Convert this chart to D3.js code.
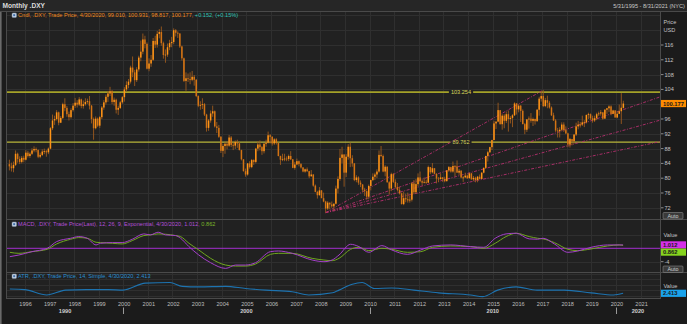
<!DOCTYPE html>
<html><head><meta charset="utf-8">
<script src="https://cdn.jsdelivr.net/npm/d3@7"></script>
<style>
html,body{margin:0;padding:0;background:#1c1c1c;overflow:hidden;}
svg{display:block;font-family:"Liberation Sans",Arial,sans-serif;}
</style></head><body>
<svg id="c" width="687" height="324"></svg>
<script>
// ---- Monthly .DXY candles, May 1995 .. Apr 2020 ----
const firstYear = 1995, firstMonth = 4; // May 1995
const open = [
  83.8,83.2,82.7,83.6,86.6,85.2,84.4,85.5,
  85.0,86.9,86.0,86.6,87.5,87.9,87.6,85.8,86.3,87.2,87.3,87.0,
  88.0,93.5,95.6,96.0,97.8,95.0,96.3,100.0,99.0,97.3,96.5,98.4,
  99.6,100.4,99.9,101.3,99.5,100.0,100.6,100.8,99.6,96.0,93.5,96.1,
  94.2,96.5,99.1,100.5,102.0,102.9,103.5,100.6,101.2,98.5,99.0,100.5,
  101.9,104.0,105.2,106.1,109.9,108.6,106.5,109.4,112.6,114.2,117.5,116.3,
  109.6,111.0,112.0,117.1,116.1,119.0,119.5,116.5,113.3,113.4,115.4,116.5,
  116.8,120.0,119.3,119.1,115.6,112.4,106.3,107.0,106.8,106.6,107.4,106.6,
  102.2,99.6,99.8,100.0,97.2,93.6,95.6,97.5,98.1,94.0,93.6,91.2,
  87.4,88.7,89.3,88.8,91.0,89.0,88.8,89.8,89.4,87.6,85.1,81.9,
  81.0,84.0,83.0,84.9,84.4,88.0,89.1,88.4,87.3,89.3,89.6,91.6,
  91.2,89.4,90.5,89.5,86.0,85.0,85.2,85.3,85.2,86.0,85.1,82.8,
  83.7,84.6,83.8,82.9,81.8,82.4,81.9,80.5,81.0,78.0,76.3,75.4,
  76.7,74.6,73.7,71.8,73.4,72.9,72.4,73.1,77.2,79.8,85.5,86.4,
  81.5,85.8,88.5,85.4,84.0,79.5,80.2,78.8,78.3,76.9,76.5,75.0,
  77.9,79.5,80.4,81.0,81.8,86.3,86.0,81.8,83.1,78.9,77.2,81.1,
  79.0,77.6,76.8,75.9,73.0,74.6,74.3,74.0,74.2,78.6,76.2,78.4,
  80.2,79.2,78.8,79.0,78.8,83.0,81.6,82.7,81.2,79.9,79.8,80.2,
  79.8,79.2,82.1,83.0,81.8,83.3,83.2,81.5,82.0,80.2,80.2,80.7,
  80.0,81.3,79.7,80.1,79.5,80.4,79.8,81.5,82.8,86.0,87.0,88.4,
  90.3,94.8,95.3,98.4,94.6,96.9,95.5,97.3,96.0,96.3,97.0,100.2,
  98.6,99.6,98.2,94.6,93.1,95.9,96.1,95.5,96.0,95.4,98.5,101.5,
  102.2,99.5,101.1,100.4,99.1,97.0,95.6,92.9,92.7,93.1,94.5,93.0,
  92.1,89.1,90.6,90.0,91.8,94.0,94.5,94.5,95.1,95.1,97.1,97.3,
  96.2,95.6,96.2,97.3,97.5,97.8,96.1,98.5,98.9,99.4,97.4,98.3,
  96.4,97.4,98.1,99.010
];
const high = [
  85.0,84.2,84.5,87.5,86.9,85.9,86.0,86.1,
  87.6,87.4,87.0,88.1,88.6,88.3,87.8,86.9,87.8,88.0,87.6,88.3,
  93.8,97.2,96.9,98.4,98.0,96.8,100.4,101.6,99.5,98.0,98.9,100.3,
  101.7,101.1,101.9,101.5,101.0,101.6,101.5,102.2,99.8,96.4,96.7,96.4,
  96.8,99.5,101.1,102.6,103.6,104.7,103.8,101.8,101.5,99.6,100.9,102.2,
  104.6,106.2,106.8,110.4,112.9,109.3,110.0,113.1,117.2,119.1,118.5,116.7,
  112.4,113.3,117.9,118.5,119.8,120.3,121.0,116.9,114.8,116.4,117.4,118.2,
  120.5,120.3,119.7,119.2,115.8,112.6,108.6,108.3,108.6,109.0,107.9,106.8,
  102.4,100.8,101.6,100.3,97.4,96.0,98.3,99.6,98.3,95.2,94.4,91.4,
  89.2,89.7,90.0,91.7,91.4,89.6,90.2,90.4,89.8,87.7,85.1,82.6,
  84.1,84.6,85.2,85.1,88.2,90.0,90.2,88.7,89.5,90.4,92.6,91.9,
  91.3,90.8,90.8,89.6,86.1,86.6,86.6,85.9,86.4,87.3,85.2,84.4,
  85.3,84.8,84.1,83.0,82.6,82.9,82.0,82.2,81.1,78.3,76.6,77.6,
  76.8,76.1,73.9,73.8,73.4,73.7,73.2,78.0,80.5,87.9,88.5,86.5,
  86.5,89.2,89.6,86.2,84.1,80.8,80.5,79.4,78.4,77.4,76.7,78.3,
  79.6,81.3,81.5,82.4,87.5,88.7,86.4,83.5,83.2,79.2,81.5,81.4,
  79.7,78.7,77.6,76.1,76.4,75.8,76.1,75.3,79.0,79.5,79.8,81.3,
  81.8,79.6,80.2,79.6,83.4,83.0,84.1,82.7,81.3,80.3,81.3,80.3,
  80.4,82.2,83.3,83.1,84.5,83.6,84.8,82.5,82.2,80.6,81.5,81.0,
  81.5,81.4,80.6,80.4,80.6,81.0,81.6,82.9,86.1,87.4,88.5,90.4,
  95.5,95.3,100.4,98.3,97.3,97.3,98.0,98.3,96.8,97.3,100.5,100.3,
  100.0,99.8,98.6,94.9,96.0,96.7,97.6,96.4,96.1,98.7,102.0,103.6,
  103.8,101.7,102.3,100.9,99.4,97.7,96.0,93.6,93.8,95.1,95.1,94.0,
  92.3,90.9,90.4,91.9,95.0,95.5,95.2,96.9,95.7,97.2,97.7,97.5,
  96.9,96.9,97.7,98.0,98.4,97.8,98.7,99.0,99.7,99.7,98.5,98.4,
  98.2,99.9,102.99,100.931
];
const low = [
  82.1,81.8,81.6,83.3,84.2,83.8,84.0,84.3,
  84.8,85.6,85.5,86.3,87.0,87.0,85.4,85.4,86.0,86.5,85.8,86.5,
  87.8,93.0,94.4,95.6,94.3,94.9,96.0,98.1,96.6,95.6,96.1,98.0,
  99.0,99.1,99.5,98.9,98.8,99.6,100.1,98.6,94.8,90.4,93.2,93.8,
  93.6,96.0,98.5,99.9,100.6,102.2,100.0,99.6,97.5,97.1,98.7,100.1,
  100.7,103.4,104.3,105.6,107.3,104.9,106.0,108.8,111.6,113.5,115.1,109.4,
  108.9,110.1,111.7,115.2,115.3,117.8,115.8,112.3,111.2,112.8,114.6,115.4,
  116.2,118.3,117.9,115.2,111.8,106.0,103.6,106.0,105.4,106.2,105.0,101.9,
  99.2,98.5,98.7,96.8,92.6,92.8,95.0,96.6,93.7,92.2,90.9,86.8,
  85.7,86.6,87.8,88.5,88.4,87.6,87.9,88.2,87.5,84.8,81.8,80.4,
  80.7,82.6,82.7,83.6,84.0,87.3,87.5,86.3,86.7,88.5,89.4,89.4,
  88.8,89.0,89.1,85.9,83.6,84.6,84.6,84.6,84.6,84.9,82.7,82.3,
  83.6,83.2,82.6,81.6,81.5,81.7,80.0,80.5,77.7,76.2,74.5,75.3,
  74.6,73.5,70.7,71.4,71.6,72.0,71.3,72.9,75.9,79.3,84.0,77.7,
  80.3,85.0,83.0,83.1,79.2,78.9,78.2,77.6,76.2,75.2,74.2,74.3,
  76.7,79.2,79.5,80.0,81.5,85.7,81.6,80.5,78.8,75.6,76.5,78.7,
  77.2,76.4,75.6,72.9,72.7,73.5,73.4,73.4,73.7,75.7,75.8,77.8,
  78.9,78.1,78.6,78.5,78.7,81.1,81.3,81.1,78.6,78.9,79.6,79.0,
  78.9,79.1,81.7,81.5,81.5,80.5,81.5,80.9,80.0,79.0,80.2,79.8,
  79.9,79.6,79.2,78.9,78.9,79.7,79.8,81.3,82.6,84.5,86.9,87.6,
  90.3,93.3,95.1,94.5,93.1,93.5,94.9,92.6,94.8,93.8,96.8,97.2,
  97.8,95.2,94.6,91.9,92.5,93.4,95.0,94.1,94.5,95.3,96.9,100.7,
  99.2,99.2,98.9,98.8,96.8,95.5,92.5,91.0,91.0,92.8,92.5,91.9,
  88.4,88.3,88.9,89.3,91.4,93.2,93.7,94.1,93.8,94.8,96.0,95.7,
  95.0,95.2,95.7,96.8,96.9,95.8,96.1,97.4,97.9,97.0,97.3,96.4,
  96.2,97.4,94.65,98.817
];
const close = [
  83.2,82.7,83.6,86.6,85.2,84.4,85.5,85.0,
  86.9,86.0,86.6,87.5,87.9,87.6,85.8,86.3,87.2,87.3,87.0,88.0,
  93.5,95.6,96.0,97.8,95.0,96.3,100.0,99.0,97.3,96.5,98.4,99.6,
  100.4,99.9,101.3,99.5,100.0,100.6,100.8,99.6,96.0,93.5,96.1,94.2,
  96.5,99.1,100.5,102.0,102.9,103.5,100.6,101.2,98.5,99.0,100.5,101.9,
  104.0,105.2,106.1,109.9,108.6,106.5,109.4,112.6,114.2,117.5,116.3,109.6,
  111.0,112.0,117.1,116.1,119.0,119.5,116.5,113.3,113.4,115.4,116.5,116.8,
  120.0,119.3,119.1,115.6,112.4,106.3,107.0,106.8,106.6,107.4,106.6,102.2,
  99.6,99.8,100.0,97.2,93.6,95.6,97.5,98.1,94.0,93.6,91.2,87.4,
  88.7,89.3,88.8,91.0,89.0,88.8,89.8,89.4,87.6,85.1,81.9,81.0,
  84.0,83.0,84.9,84.4,88.0,89.1,88.4,87.3,89.3,89.6,91.6,91.2,
  89.4,90.5,89.5,86.0,85.0,85.2,85.3,85.2,86.0,85.1,82.8,83.7,
  84.6,83.8,82.9,81.8,82.4,81.9,80.5,81.0,78.0,76.3,75.4,76.7,
  74.6,73.7,71.8,73.4,72.9,72.4,73.1,77.2,79.8,85.5,86.4,81.5,
  85.8,88.5,85.4,84.0,79.5,80.2,78.8,78.3,76.9,76.5,75.0,77.9,
  79.5,80.4,81.0,81.8,86.3,86.0,81.8,83.1,78.9,77.2,81.1,79.0,
  77.6,76.8,75.9,73.0,74.6,74.3,74.0,74.2,78.6,76.2,78.4,80.2,
  79.2,78.8,79.0,78.8,83.0,81.6,82.7,81.2,79.9,79.8,80.2,79.8,
  79.2,82.1,83.0,81.8,83.3,83.2,81.5,82.0,80.2,80.2,80.7,80.0,
  81.3,79.7,80.1,79.5,80.4,79.8,81.5,82.8,86.0,87.0,88.4,90.3,
  94.8,95.3,98.4,94.6,96.9,95.5,97.3,96.0,96.3,97.0,100.2,98.6,
  99.6,98.2,94.6,93.1,95.9,96.1,95.5,96.0,95.4,98.5,101.5,102.2,
  99.5,101.1,100.4,99.1,97.0,95.6,92.9,92.7,93.1,94.5,93.0,92.1,
  89.1,90.6,90.0,91.8,94.0,94.5,94.5,95.1,95.1,97.1,97.3,96.2,
  95.6,96.2,97.3,97.5,97.8,96.1,98.5,98.9,99.4,97.4,98.3,96.4,
  97.4,98.1,99.05,100.177
];

// Horizontal levels and trend fan (decimal year, price)
const levels = [103.254, 89.762];
const fanOrigin = [2008.22, 70.7];
const fanEnds = [[2017.05, 103.8], [2021.8, 102.0], [2021.8, 95.7], [2021.8, 89.9]];

// MACD (12, 26, 9) and its signal line, sampled along the time axis
const macdT = [1995.4,1995.77,1996.3,1996.92,1997.3,1997.87,1998.2,1998.54,1998.9,1999.08,1999.56,1999.96,
  2000.37,2000.84,2001.1,2001.42,2001.72,2002.13,2002.33,2002.67,2003.07,2003.55,2004.16,2004.56,2004.97,
  2005.37,2005.98,2006.3,2006.86,2007.67,2008.15,2008.48,2008.76,2009.23,2009.57,2009.97,2010.5,2010.9,
  2011.54,2012.08,2012.56,2013.3,2014.1,2014.64,2015.1,2015.54,2015.95,2016.48,2016.82,2017.04,2017.5,
  2018.05,2018.45,2018.99,2019.66,2020.13,2020.29];
const macdV = [-2.5,-2.0,-1.0,0.0,2.0,3.0,3.5,3.0,1.0,1.5,1.7,1.7,
  2.7,4.3,4.0,4.8,4.0,3.8,3.0,0.5,-2.0,-4.3,-6.0,-5.0,-5.0,
  -4.3,-1.0,-0.8,-1.5,-3.5,-4.0,-3.5,-2.0,1.2,0.5,-1.2,0.8,-0.5,
  -1.8,-0.5,0.7,1.0,0.5,0.3,3.0,4.3,4.5,2.8,2.7,3.0,1.3,
  -1.2,-0.8,0.3,1.0,1.0,1.012];
const signalV = [-1.2,-1.5,-1.0,-0.3,1.3,2.7,3.2,3.0,1.8,1.7,1.5,1.3,
  2.3,3.8,4.0,4.3,4.2,3.8,3.5,1.5,-0.5,-3.0,-5.0,-5.3,-5.3,
  -4.7,-1.8,-1.5,-1.5,-3.0,-3.5,-3.7,-3.0,-0.3,0.3,-0.7,0.0,-0.3,
  -1.2,-1.0,0.3,0.7,0.5,0.0,1.5,3.5,4.5,3.5,3.0,2.8,1.7,
  -0.3,-0.7,-0.2,0.7,1.0,0.862];

// ATR (14, simple)
const atrT = [1995.4,1996.0,1996.9,1997.66,1998.5,1999.4,2000.0,2000.9,2001.9,2002.4,2003.07,2004.16,2004.97,
  2005.8,2006.86,2007.53,2008.5,2008.76,2009.3,2009.7,2010.2,2010.9,2011.8,2012.8,2014.1,2014.6,2015.2,
  2015.95,2016.8,2017.9,2018.99,2019.9,2020.29];
const atrV = [3.2,3.1,2.1,3.0,3.1,3.1,3.0,4.3,4.4,3.7,3.6,3.7,3.3,
  3.0,2.7,2.1,2.5,3.0,4.1,4.4,3.3,3.4,3.0,2.5,2.1,1.8,3.0,
  3.6,3.0,3.0,2.5,2.1,2.413];

// price axis: tick marks at every step; the 100 label sits under the last-price tag
const priceTicks = [72,76,80,84,88,92,96,100,104,108,112,116];
const priceLabels = [72,76,80,84,88,92,96,104,108,112,116];
const priceGrid = [72,76,80,84,88,92,96,100,104,108,112,116,120,124];
const years = d3.range(1996, 2022);
const decades = [{label:"1990", from:null, to:2000}, {label:"2000", from:2000, to:2010},
                 {label:"2010", from:2010, to:2020}, {label:"2020", from:2020, to:null}];

// ---- layout ----
const L = 7, R = 660;
const svg = d3.select("#c");
const bars = close.map((c, i) => {
  const m = firstMonth + i;
  return {t: firstYear + Math.floor(m / 12) + ((m % 12) + 0.6) / 12,
          o: open[i], h: high[i], l: low[i], c};
});

const x = d3.scaleLinear().domain([1996, 2021]).range([24.6, 640.6]);
const y = d3.scaleLinear().domain([116, 72]).range([45, 207.8]);
const yM = d3.scaleLinear().domain([0, -4]).range([248.3, 261.7]);
const yA = d3.scaleLinear().domain([2.413, 4.5]).range([293.3, 282]);

const main = {top: 12, bottom: 219.5};
const mp = {top: 220, bottom: 272};
const ap = {top: 273, bottom: 298.5};

// background
svg.append("rect").attr("width", 687).attr("height", 324).attr("fill", "#1b1b1b");
svg.append("rect").attr("width", 687).attr("height", 11.5).attr("fill", "#262626");
svg.append("rect").attr("x", 0).attr("y", 11.5).attr("width", 1.6).attr("height", 312.5).attr("fill", "#6a6a6a");
[main, mp, ap].forEach(p => {
  svg.append("rect").attr("x", L).attr("y", p.top).attr("width", R - L).attr("height", p.bottom - p.top).attr("fill", "#212121");
});

// header
svg.append("text").attr("x", 2.5).attr("y", 8.2).attr("fill", "#dcdcdc").attr("font-size", 6.6)
  .attr("font-weight", "bold").text("Monthly .DXY");
svg.append("text").attr("x", 685).attr("y", 8.2).attr("text-anchor", "end").attr("fill", "#c8c8c8")
  .attr("font-size", 5.6).text("5/31/1995 - 8/31/2021 (NYC)");

// grids
const grid = svg.append("g").attr("stroke", "#2f2f2f").attr("stroke-width", 1);
years.forEach(yr => {
  [main, mp, ap].forEach(p => {
    grid.append("line").attr("x1", Math.round(x(yr)) + 0.5).attr("x2", Math.round(x(yr)) + 0.5)
      .attr("y1", p.top).attr("y2", p.bottom);
  });
});
priceGrid.forEach(v => {
  grid.append("line").attr("x1", L).attr("x2", R).attr("y1", Math.round(y(v)) + 0.5).attr("y2", Math.round(y(v)) + 0.5);
});
[-4, 4].forEach(v => {
  grid.append("line").attr("x1", L).attr("x2", R).attr("y1", Math.round(yM(v)) + 0.5).attr("y2", Math.round(yM(v)) + 0.5);
});
[2, 3, 4, 5, 6].forEach(v => {
  grid.append("line").attr("x1", L).attr("x2", R).attr("y1", Math.round(yA(v)) + 0.5).attr("y2", Math.round(yA(v)) + 0.5);
});

// panel borders
const border = svg.append("g").attr("stroke", "#4a4a4a").attr("stroke-width", 1);
border.append("line").attr("x1", 0).attr("x2", 687).attr("y1", 11.5).attr("y2", 11.5);
border.append("line").attr("x1", L).attr("x2", 687).attr("y1", 219.5).attr("y2", 219.5);
border.append("line").attr("x1", L).attr("x2", 687).attr("y1", 272.5).attr("y2", 272.5);
border.append("line").attr("x1", L - 0.5).attr("x2", L - 0.5).attr("y1", 11.5).attr("y2", 299);
border.append("line").attr("x1", L).attr("x2", R).attr("y1", 298.5).attr("y2", 298.5);
border.append("line").attr("x1", R + 0.5).attr("x2", R + 0.5).attr("y1", 11.5).attr("y2", 299);

// horizontal levels
const lvlColors = ["#a4a228", "#b9b63a"];
const lvlWidths = [1.6, 1.1];
levels.forEach((v, i) => {
  svg.append("line").attr("x1", L).attr("x2", R).attr("y1", y(v)).attr("y2", y(v))
    .attr("stroke", lvlColors[i]).attr("stroke-width", lvlWidths[i]);
  const lbl = v.toFixed(3);
  const g = svg.append("g");
  const t = g.append("text").attr("x", 461).attr("y", y(v) + 2).attr("text-anchor", "middle")
    .attr("font-size", 5.6).attr("fill", "#d9d65a").text(lbl);
  const bb = t.node().getBBox();
  g.insert("rect", "text").attr("x", bb.x - 2).attr("y", y(v) - 2.5).attr("width", bb.width + 4).attr("height", 5)
    .attr("fill", "#212121");
});

// fan lines
const clipId = "mainClip";
svg.append("clipPath").attr("id", clipId).append("rect").attr("x", L).attr("y", main.top).attr("width", R - L).attr("height", main.bottom - main.top);
const fan = svg.append("g").attr("clip-path", `url(#${clipId})`);
fanEnds.forEach(e => {
  fan.append("line").attr("x1", x(fanOrigin[0])).attr("y1", y(fanOrigin[1]))
    .attr("x2", x(e[0])).attr("y2", y(e[1]))
    .attr("stroke", "#b5306e").attr("stroke-width", 0.9).attr("stroke-dasharray", "3,1.5,1,1.5");
});

// candles
const cg = svg.append("g").attr("clip-path", `url(#${clipId})`);
cg.selectAll("line.w").data(bars).join("line").attr("class", "w")
  .attr("x1", d => x(d.t)).attr("x2", d => x(d.t))
  .attr("y1", d => y(d.h)).attr("y2", d => y(d.l))
  .attr("stroke", "#9c5a1e").attr("stroke-width", 0.9);
cg.selectAll("rect.b").data(bars).join("rect").attr("class", "b")
  .attr("x", d => x(d.t) - 0.75).attr("width", 1.5)
  .attr("y", d => y(Math.max(d.o, d.c)))
  .attr("height", d => Math.max(0.8, Math.abs(y(d.o) - y(d.c))))
  .attr("fill", d => d.c >= d.o ? "#ff9416" : "#d47414");

// MACD
const mClip = "mClip";
svg.append("clipPath").attr("id", mClip).append("rect").attr("x", L).attr("y", mp.top).attr("width", R - L).attr("height", mp.bottom - mp.top);
const mg = svg.append("g").attr("clip-path", `url(#${mClip})`);
mg.append("line").attr("x1", L).attr("x2", R).attr("y1", yM(0)).attr("y2", yM(0)).attr("stroke", "#a42fd0").attr("stroke-width", 1);
const lineM = d3.line().curve(d3.curveMonotoneX).x(d => x(d[0])).y(d => yM(d[1]));
mg.append("path").attr("d", lineM(macdT.map((t, i) => [t, signalV[i]]))).attr("fill", "none").attr("stroke", "#6fa61e").attr("stroke-width", 1);
mg.append("path").attr("d", lineM(macdT.map((t, i) => [t, macdV[i]]))).attr("fill", "none").attr("stroke", "#a33fc8").attr("stroke-width", 1);

// ATR
const aClip = "aClip";
svg.append("clipPath").attr("id", aClip).append("rect").attr("x", L).attr("y", ap.top).attr("width", R - L).attr("height", ap.bottom - ap.top);
const lineA = d3.line().curve(d3.curveMonotoneX).x(d => x(d[0])).y(d => yA(d[1]));
svg.append("g").attr("clip-path", `url(#${aClip})`).append("path")
  .attr("d", lineA(atrT.map((t, i) => [t, atrV[i]]))).attr("fill", "none").attr("stroke", "#1d73b0").attr("stroke-width", 1.1);

// legends
function icon(px, py) {
  svg.append("rect").attr("x", px).attr("y", py).attr("width", 4.5).attr("height", 4.5).attr("rx", 1)
    .attr("fill", "#c9d6e6").attr("stroke", "#7b8da3").attr("stroke-width", 0.5);
  svg.append("rect").attr("x", px + 1.2).attr("y", py + 1.2).attr("width", 2).attr("height", 2).attr("fill", "#3f6ea8");
}
icon(12, 13);
const lg = svg.append("text").attr("x", 18).attr("y", 17.4).attr("font-size", 5.6);
lg.append("tspan").attr("fill", "#f08a1e").text("Cndl, .DXY, Trade Price, 4/30/2020, 99.010, 100.931, 98.817, 100.177, ");
lg.append("tspan").attr("fill", "#2ec4b6").text("+0.152, (+0.15%)");

icon(12, 222);
const lm = svg.append("text").attr("x", 18).attr("y", 226.4).attr("font-size", 5.6);
lm.append("tspan").attr("fill", "#b24fd8").text("MACD, .DXY, Trade Price(Last),  12, 26, 9, Exponential, 4/30/2020, 1.012, ");
lm.append("tspan").attr("fill", "#79b52a").text("0.862");

icon(12, 274);
svg.append("text").attr("x", 18).attr("y", 278.4).attr("font-size", 5.6).attr("fill", "#2a8fd0")
  .text("ATR, .DXY, Trade Price,  14, Simple, 4/30/2020, 2.413");

// right price axis
const ax = svg.append("g").attr("font-size", 5.6).attr("fill", "#c4c4c4");
priceTicks.forEach(v => {
  svg.append("line").attr("x1", R + 1).attr("x2", R + 3.5).attr("y1", y(v)).attr("y2", y(v)).attr("stroke", "#aaa").attr("stroke-width", 0.8);
});
priceLabels.forEach(v => ax.append("text").attr("x", 664.5).attr("y", y(v) + 2).text(v));
ax.append("text").attr("x", 663.5).attr("y", 24).text("Price");
ax.append("text").attr("x", 663.5).attr("y", 31.5).text("USD");

function valueBox(val, yy, bg, txt) {
  svg.append("rect").attr("x", 661).attr("y", yy - 3.6).attr("width", 25).attr("height", 7.2).attr("fill", bg);
  svg.append("text").attr("x", 663).attr("y", yy + 2.1).attr("font-size", 5.8).attr("fill", txt).attr("font-weight", "bold").text(val);
}
valueBox("100.177", y(100.177), "#ff8c00", "#1a1a1a");

function autoBtn(yy) {
  svg.append("rect").attr("x", 663).attr("y", yy).attr("width", 20).attr("height", 6.5).attr("rx", 1)
    .attr("fill", "#3a3a3a").attr("stroke", "#8a8a8a").attr("stroke-width", 0.6);
  svg.append("text").attr("x", 673).attr("y", yy + 5).attr("text-anchor", "middle").attr("font-size", 5.4).attr("fill", "#d0d0d0").text("Auto");
}
autoBtn(212.5);

// MACD axis
ax.append("text").attr("x", 663.5).attr("y", 236.5).text("Value");
svg.append("line").attr("x1", R + 1).attr("x2", R + 3.5).attr("y1", yM(-4)).attr("y2", yM(-4)).attr("stroke", "#aaa").attr("stroke-width", 0.8);
ax.append("text").attr("x", 664.5).attr("y", yM(-4) + 2).text("-4");
valueBox("1.012", yM(1.012), "#d52fe8", "#1a1a1a");
valueBox("0.862", yM(1.012) + 7.2, "#86d41e", "#1a1a1a");
autoBtn(266);

// ATR axis
ax.append("text").attr("x", 663.5).attr("y", 287.5).text("Value");
valueBox("2.413", yA(2.413), "#1aa3ec", "#1a1a1a");

// time axis
const tx = svg.append("g").attr("font-size", 5.6).attr("fill", "#bdbdbd").attr("text-anchor", "middle");
years.forEach(yr => tx.append("text").attr("x", x(yr) + 1).attr("y", 306).text(yr));
decades.forEach(d => {
  const a = d.from === null ? L : x(d.from);
  const b = d.to === null ? R : x(d.to);
  tx.append("text").attr("x", (a + b) / 2).attr("y", 313).attr("font-weight", "bold").attr("fill", "#cfcfcf").text(d.label);
  if (d.from !== null) {
    svg.append("line").attr("x1", Math.round(x(d.from)) + 0.5).attr("x2", Math.round(x(d.from)) + 0.5)
      .attr("y1", 307.5).attr("y2", 314).attr("stroke", "#9a9a9a").attr("stroke-width", 1);
  }
});
</script>
</body></html>
